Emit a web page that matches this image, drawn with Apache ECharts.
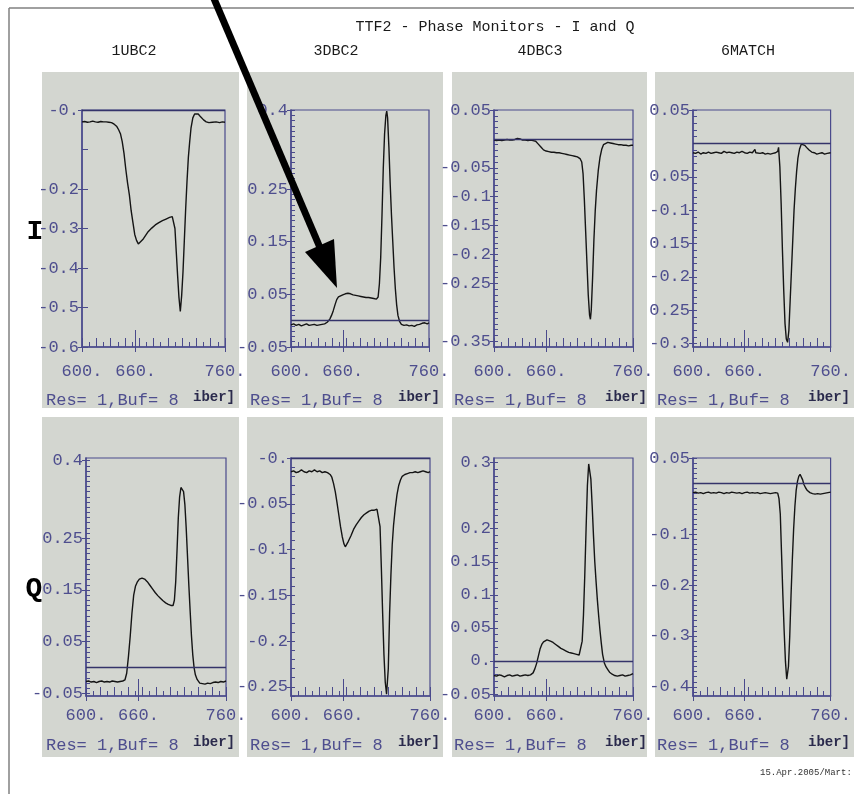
<!DOCTYPE html>
<html><head><meta charset="utf-8">
<script src="https://cdn.jsdelivr.net/npm/echarts@6/dist/echarts.min.js"></script>
<style>html,body{margin:0;padding:0;background:#fff}#c{width:854px;height:794px}</style>
</head><body><div id="c"></div>
<script>
// ---------------- DATA ----------------
const title = 'TTF2 - Phase Monitors - I and Q';
const monitors = ['1UBC2', '3DBC2', '4DBC3', '6MATCH'];
const rowNames = ['I', 'Q'];
const xRange = [600, 760];
const xLabelVals = [600, 660, 760];
const xLabelTexts = ['600.', '660.', '760.'];
const infoText = 'Res= 1,Buf= 8';
const unitText = 'iber]';
const footerText = '15.Apr.2005/Mart:';

// 1UBC2 - I
const x_1UBC2_I = [600,603,606,609,612,615,618,621,624,627,630,633,636,639,641,643,645,647,649,651,653,655,657,659,661,663,665,668,671,674,678,682,686,690,694,698,701,702.5,704,705.5,707,708.5,710,711.5,713,714.5,716,717.5,719,720.5,722,724,726,728,730,733,736,739,742,746,750,754,757,760];
const y_1UBC2_I = [-0.030,-0.029,-0.031,-0.030,-0.028,-0.030,-0.031,-0.029,-0.030,-0.030,-0.031,-0.032,-0.036,-0.042,-0.050,-0.060,-0.080,-0.110,-0.150,-0.185,-0.215,-0.255,-0.285,-0.315,-0.330,-0.339,-0.337,-0.328,-0.318,-0.308,-0.299,-0.291,-0.285,-0.280,-0.276,-0.272,-0.270,-0.275,-0.300,-0.360,-0.420,-0.475,-0.510,-0.470,-0.410,-0.330,-0.250,-0.180,-0.120,-0.080,-0.045,-0.020,-0.010,-0.006,-0.010,-0.018,-0.025,-0.030,-0.032,-0.031,-0.030,-0.032,-0.030,-0.031];
// 3DBC2 - I
const x_3DBC2_I = [600,603,606,609,612,615,618,621,624,627,630,633,636,639,642,645,647,649,651,653,655,657,660,663,666,669,672,675,678,681,684,687,690,693,696,699,701,702.5,704,705.5,707,708.5,710,711,712,713.5,715,716.5,718,719.5,721,722.5,724,726,728,731,734,737,740,743,746,749,752,755,758,760];
const y_3DBC2_I = [-0.008,-0.006,-0.009,-0.007,-0.010,-0.008,-0.006,-0.009,-0.008,-0.007,-0.009,-0.008,-0.007,-0.006,-0.003,0.003,0.010,0.019,0.030,0.040,0.045,0.047,0.049,0.051,0.052,0.051,0.049,0.048,0.047,0.046,0.045,0.044,0.044,0.043,0.042,0.041,0.045,0.070,0.120,0.200,0.290,0.355,0.390,0.398,0.385,0.330,0.260,0.200,0.150,0.100,0.060,0.030,0.010,-0.002,-0.007,-0.009,-0.008,-0.010,-0.009,-0.011,-0.008,-0.007,-0.005,-0.004,-0.006,-0.004];
// 4DBC3 - I
const x_4DBC3_I = [600,603,606,609,612,615,618,621,624,627,630,633,636,639,642,645,648,651,654,657,660,663,666,669,672,675,678,681,684,687,690,693,696,699,701,702.5,704,705.5,707,708.5,710,711,712,713.5,715,716.5,718,720,722,724,726,728,731,734,737,740,743,746,749,752,755,758,760];
const y_4DBC3_I = [-0.002,-0.003,-0.002,-0.003,-0.002,-0.001,-0.002,-0.002,-0.001,0.001,0.000,-0.002,-0.002,-0.003,-0.002,-0.003,-0.004,-0.009,-0.014,-0.019,-0.021,-0.022,-0.023,-0.023,-0.024,-0.024,-0.025,-0.026,-0.027,-0.028,-0.029,-0.030,-0.031,-0.034,-0.040,-0.060,-0.105,-0.160,-0.215,-0.270,-0.305,-0.312,-0.295,-0.240,-0.175,-0.125,-0.089,-0.055,-0.032,-0.018,-0.010,-0.007,-0.006,-0.007,-0.008,-0.009,-0.010,-0.010,-0.011,-0.011,-0.012,-0.011,-0.011];
// 6MATCH - I
const x_6MATCH_I = [600,603,606,609,612,615,618,621,624,627,630,633,636,639,642,645,648,651,654,657,660,663,666,669,672,673,675,678,681,684,687,690,693,696,698.5,699.5,701,702.5,704,705.5,707,708.5,710,711.5,713,714.5,716,717.5,719,720.5,722,724,726,728,730,732,735,738,741,744,747,750,753,756,760];
const y_6MATCH_I = [-0.014,-0.015,-0.013,-0.016,-0.014,-0.015,-0.013,-0.015,-0.014,-0.013,-0.014,-0.015,-0.012,-0.014,-0.013,-0.014,-0.015,-0.013,-0.014,-0.012,-0.014,-0.015,-0.013,-0.014,-0.009,-0.014,-0.014,-0.015,-0.014,-0.016,-0.015,-0.016,-0.015,-0.014,-0.012,-0.006,-0.035,-0.090,-0.160,-0.220,-0.270,-0.293,-0.298,-0.280,-0.235,-0.190,-0.145,-0.100,-0.068,-0.042,-0.022,-0.008,-0.001,0.001,-0.003,-0.006,-0.010,-0.013,-0.014,-0.016,-0.015,-0.014,-0.016,-0.015,-0.014];
// 1UBC2 - Q
const x_1UBC2_Q = [600,603,606,609,612,615,618,621,624,627,630,633,636,639,642,644.5,646.5,648.5,650.5,652.5,654.5,656.5,658.5,661,664,667,670,673,676,679,682,685,688,691,694,697,699.5,701,702.5,704,705.5,707,708.5,710,711.5,713,714.5,716,717.5,719,720.5,722,723.5,725,727,730,733,736,739,742,745,748,751,754,757,760];
const y_1UBC2_Q = [-0.027,-0.026,-0.028,-0.027,-0.029,-0.027,-0.026,-0.028,-0.027,-0.028,-0.026,-0.027,-0.028,-0.027,-0.026,-0.024,-0.011,0.021,0.060,0.105,0.140,0.157,0.165,0.171,0.173,0.171,0.166,0.159,0.152,0.145,0.139,0.134,0.129,0.125,0.122,0.120,0.120,0.130,0.165,0.225,0.290,0.330,0.348,0.350,0.340,0.315,0.270,0.215,0.160,0.110,0.062,0.025,0.000,-0.014,-0.023,-0.030,-0.031,-0.032,-0.030,-0.031,-0.029,-0.028,-0.029,-0.027,-0.028,-0.026];
// 3DBC2 - Q
const x_3DBC2_Q = [600,603,606,609,612,615,618,621,624,627,630,633,636,639,642,645,647,649,651,653,655,657,659,661,662.5,664,666,669,672,675,678,681,684,687,690,693,696,699,701,702.5,704,705.5,707,708.5,710,711,712,713.5,715,716.5,718,720,722,724,726,728,731,734,737,740,743,746,749,752,755,758,760];
const y_3DBC2_Q = [-0.015,-0.014,-0.016,-0.015,-0.013,-0.015,-0.016,-0.014,-0.015,-0.013,-0.015,-0.014,-0.016,-0.015,-0.016,-0.018,-0.021,-0.028,-0.037,-0.049,-0.062,-0.075,-0.086,-0.094,-0.097,-0.095,-0.091,-0.085,-0.078,-0.073,-0.069,-0.065,-0.062,-0.060,-0.058,-0.057,-0.057,-0.056,-0.058,-0.075,-0.120,-0.170,-0.215,-0.245,-0.258,-0.258,-0.230,-0.170,-0.128,-0.095,-0.074,-0.055,-0.040,-0.030,-0.024,-0.020,-0.018,-0.017,-0.016,-0.016,-0.015,-0.016,-0.015,-0.014,-0.015,-0.016,-0.015];
// 4DBC3 - Q
const x_4DBC3_Q = [600,603,606,609,612,615,618,621,624,627,630,633,636,639,642,645,647,649,651,653,655,657,659,661,663,665,668,671,674,677,680,683,686,689,692,695,698,700,701.5,703,704.5,706,707.5,709,710,711.5,713,714.5,716,717.5,719,720.5,722,723.5,725,727,729,731,733,736,739,742,745,748,751,754,757,760];
const y_4DBC3_Q = [-0.022,-0.023,-0.021,-0.022,-0.024,-0.022,-0.021,-0.023,-0.022,-0.021,-0.023,-0.022,-0.021,-0.022,-0.021,-0.018,-0.012,-0.004,0.007,0.018,0.025,0.029,0.031,0.032,0.031,0.030,0.028,0.025,0.022,0.019,0.017,0.015,0.013,0.012,0.011,0.010,0.009,0.012,0.030,0.070,0.130,0.200,0.265,0.298,0.296,0.275,0.235,0.190,0.150,0.120,0.092,0.068,0.046,0.027,0.010,-0.003,-0.009,-0.013,-0.017,-0.020,-0.022,-0.023,-0.022,-0.021,-0.023,-0.022,-0.021,-0.019];
// 6MATCH - Q
const x_6MATCH_Q = [600,603,606,609,612,615,618,621,624,627,630,633,636,639,642,645,648,651,654,657,660,663,666,669,672,675,678,681,684,687,690,693,696,698.5,700,701.5,703,704.5,706,707.5,709,710,711,712.5,714,715.5,717,718.5,720,721.5,723,724.5,726,727.5,729,731,733,736,739,742,745,748,751,754,757,760];
const y_6MATCH_Q = [-0.018,-0.017,-0.019,-0.018,-0.020,-0.018,-0.017,-0.019,-0.018,-0.019,-0.017,-0.018,-0.020,-0.018,-0.019,-0.017,-0.018,-0.019,-0.018,-0.020,-0.018,-0.017,-0.019,-0.018,-0.019,-0.018,-0.020,-0.019,-0.018,-0.019,-0.020,-0.019,-0.018,-0.019,-0.030,-0.060,-0.140,-0.220,-0.290,-0.350,-0.385,-0.382,-0.360,-0.300,-0.220,-0.150,-0.090,-0.045,-0.013,0.004,0.014,0.018,0.015,0.007,-0.002,-0.009,-0.014,-0.018,-0.020,-0.021,-0.020,-0.021,-0.020,-0.019,-0.018,-0.017];

// y ranges and tick labels per panel
const yRange_1UBC2_I = [-0.6, 0];
const yLabVals_1UBC2_I = [0, -0.2, -0.3, -0.4, -0.5, -0.6];
const yLabTxt_1UBC2_I = ['-0.', '-0.2', '-0.3', '-0.4', '-0.5', '-0.6'];
const yRange_3DBC2_I = [-0.05, 0.4];
const yLabVals_3DBC2_I = [0.4, 0.25, 0.15, 0.05, -0.05];
const yLabTxt_3DBC2_I = ['0.4', '0.25', '0.15', '0.05', '-0.05'];
const yRange_4DBC3_I = [-0.36, 0.05];
const yLabVals_4DBC3_I = [0.05, -0.05, -0.1, -0.15, -0.2, -0.25, -0.35];
const yLabTxt_4DBC3_I = ['0.05', '-0.05', '-0.1', '-0.15', '-0.2', '-0.25', '-0.35'];
const yRange_6MATCH_I = [-0.305, 0.05];
const yLabVals_6MATCH_I = [0.05, -0.05, -0.1, -0.15, -0.2, -0.25, -0.3];
const yLabTxt_6MATCH_I = ['0.05', '0.05', '-0.1', '0.15', '-0.2', '0.25', '-0.3'];
const yRange_1UBC2_Q = [-0.055, 0.405];
const yLabVals_1UBC2_Q = [0.4, 0.25, 0.15, 0.05, -0.05];
const yLabTxt_1UBC2_Q = ['0.4', '0.25', '0.15', '0.05', '-0.05'];
const yRange_3DBC2_Q = [-0.26, 0];
const yLabVals_3DBC2_Q = [0, -0.05, -0.1, -0.15, -0.2, -0.25];
const yLabTxt_3DBC2_Q = ['-0.', '-0.05', '-0.1', '-0.15', '-0.2', '-0.25'];
const yRange_4DBC3_Q = [-0.053, 0.307];
const yLabVals_4DBC3_Q = [0.3, 0.2, 0.15, 0.1, 0.05, 0, -0.05];
const yLabTxt_4DBC3_Q = ['0.3', '0.2', '0.15', '0.1', '0.05', '0.', '-0.05'];
const yRange_6MATCH_Q = [-0.418, 0.05];
const yLabVals_6MATCH_Q = [0.05, -0.1, -0.2, -0.3, -0.4];
const yLabTxt_6MATCH_Q = ['0.05', '-0.1', '-0.2', '-0.3', '-0.4'];

// ---------------- BUILD ----------------
const panels = [
  {xs:x_1UBC2_I, ys:y_1UBC2_I, r:yRange_1UBC2_I, lv:yLabVals_1UBC2_I, lt:yLabTxt_1UBC2_I, step:0.1},
  {xs:x_3DBC2_I, ys:y_3DBC2_I, r:yRange_3DBC2_I, lv:yLabVals_3DBC2_I, lt:yLabTxt_3DBC2_I, step:0.01},
  {xs:x_4DBC3_I, ys:y_4DBC3_I, r:yRange_4DBC3_I, lv:yLabVals_4DBC3_I, lt:yLabTxt_4DBC3_I, step:0.01},
  {xs:x_6MATCH_I, ys:y_6MATCH_I, r:yRange_6MATCH_I, lv:yLabVals_6MATCH_I, lt:yLabTxt_6MATCH_I, step:0.01},
  {xs:x_1UBC2_Q, ys:y_1UBC2_Q, r:yRange_1UBC2_Q, lv:yLabVals_1UBC2_Q, lt:yLabTxt_1UBC2_Q, step:0.01},
  {xs:x_3DBC2_Q, ys:y_3DBC2_Q, r:yRange_3DBC2_Q, lv:yLabVals_3DBC2_Q, lt:yLabTxt_3DBC2_Q, step:0.01},
  {xs:x_4DBC3_Q, ys:y_4DBC3_Q, r:yRange_4DBC3_Q, lv:yLabVals_4DBC3_Q, lt:yLabTxt_4DBC3_Q, step:0.01},
  {xs:x_6MATCH_Q, ys:y_6MATCH_Q, r:yRange_6MATCH_Q, lv:yLabVals_6MATCH_Q, lt:yLabTxt_6MATCH_Q, step:0.01}
];
const layout = [
  {left:82, top:110, width:143, height:237},
  {left:291, top:110, width:138, height:237},
  {left:494, top:110, width:139, height:237},
  {left:693, top:110, width:146, height:237},
  {left:86, top:458, width:140, height:238},
  {left:291, top:458, width:139, height:238},
  {left:494, top:458, width:139, height:238},
  {left:693, top:458, width:146, height:238}
];
const panelBoxes = [[42,239],[247,443],[452,647],[655,860]];
const rowBoxes = [[72,408],[417,757]];

const AX = '#4a4a8c';
const LBL = '#4e4e8e';
const FONT = 'Liberation Mono';

const grids = [], xAxes = [], yAxes = [], series = [];
const tallTicks = [], shortTicks = [];
for (let v = xRange[0]; v <= xRange[1]; v += 16) tallTicks.push(v);
for (let v = xRange[0] + 8; v < xRange[1]; v += 16) shortTicks.push(v);

panels.forEach((p, i) => {
  const L = layout[i];
  const row = i < 4 ? 0 : 1;
  grids.push({left:L.left, top:L.top, width:L.width, height:L.height, show:true,
    borderColor:AX, borderWidth:1.2, backgroundColor:'transparent'});
  const baseX = {gridIndex:i, type:'value', position:'bottom', min:xRange[0], max:xRange[1],
    splitLine:{show:false}};
  xAxes.push(Object.assign({}, baseX, {
    axisLine:{show:true, onZero:false, lineStyle:{color:AX, width:1.5}},
    axisTick:{show:true, inside:false, length:5, customValues:xLabelVals, lineStyle:{color:AX}},
    axisLabel:{show:true, customValues:xLabelVals, margin: row === 0 ? 16 : 11,
      color:LBL, fontSize:17, fontFamily:FONT,
      formatter:(v) => { const k = xLabelVals.indexOf(v); return k >= 0 ? xLabelTexts[k] : ''; }}
  }));
  xAxes.push(Object.assign({}, baseX, {
    axisLine:{show:false, onZero:false}, axisLabel:{show:false},
    axisTick:{show:true, inside:true, length:9, customValues:tallTicks, lineStyle:{color:AX}}
  }));
  xAxes.push(Object.assign({}, baseX, {
    axisLine:{show:false, onZero:false}, axisLabel:{show:false},
    axisTick:{show:true, inside:true, length:5, customValues:shortTicks, lineStyle:{color:AX}}
  }));
  xAxes.push(Object.assign({}, baseX, {
    axisLine:{show:false, onZero:false}, axisLabel:{show:false},
    axisTick:{show:true, inside:true, length:17, customValues:[660], lineStyle:{color:AX}}
  }));
  const dense = [];
  const s0 = Math.ceil(p.r[0] / p.step - 1e-6), s1 = Math.floor(p.r[1] / p.step + 1e-6);
  for (let k = s0; k <= s1; k++) dense.push(+(k * p.step).toFixed(4));
  const baseY = {gridIndex:i, type:'value', position:'left', min:p.r[0], max:p.r[1], splitLine:{show:false}};
  yAxes.push(Object.assign({}, baseY, {
    axisLine:{show:true, onZero:false, lineStyle:{color:AX, width:1.5}},
    axisTick:{show:true, inside:false, length:4, customValues:p.lv, lineStyle:{color:AX}},
    axisLabel:{show:true, customValues:p.lv, margin:3, color:LBL, fontSize:17, fontFamily:FONT,
      formatter:(v) => { for (let k = 0; k < p.lv.length; k++) if (Math.abs(p.lv[k] - v) < 1e-6) return p.lt[k]; return ''; }}
  }));
  yAxes.push(Object.assign({}, baseY, {
    axisLine:{show:false, onZero:false}, axisLabel:{show:false},
    axisTick:{show:true, inside:true, length: p.step > 0.05 ? 6 : 4, customValues:dense, lineStyle:{color:AX, width:1}}
  }));
  series.push({type:'line', xAxisIndex:i*4, yAxisIndex:i*2,
    data:p.xs.map((x, j) => [x, p.ys[j]]),
    showSymbol:false, symbol:'none', clip:true, animation:false,
    lineStyle:{color:'#141414', width:1.4},
    markLine:{silent:true, symbol:'none', animation:false, label:{show:false},
      lineStyle:{color:'#34346a', width:1.3, type:'solid'}, data:[{yAxis:0}]}
  });
});

const graphics = [];
// panel backgrounds
rowBoxes.forEach(rb => panelBoxes.forEach(pb => {
  graphics.push({type:'rect', z:-10, shape:{x:pb[0], y:rb[0], width:pb[1]-pb[0], height:rb[1]-rb[0]},
    style:{fill:'#d3d6d0'}});
}));
// page frame
graphics.push({type:'line', z:5, shape:{x1:9, y1:8, x2:854, y2:8}, style:{stroke:'#808080', lineWidth:1.5}});
graphics.push({type:'line', z:5, shape:{x1:9, y1:8, x2:9, y2:794}, style:{stroke:'#808080', lineWidth:1.5}});
// title texts
graphics.push({type:'text', z:20, x:495, y:27, style:{text:title, font:'15px "Liberation Mono"', fill:'#1a1a1a', align:'center', verticalAlign:'middle'}});
const colX = [134, 336, 540, 748];
monitors.forEach((m, k) => graphics.push({type:'text', z:20, x:colX[k], y:51,
  style:{text:m, font:'15px "Liberation Mono"', fill:'#1a1a1a', align:'center', verticalAlign:'middle'}}));
// row labels
graphics.push({type:'text', z:20, x:35, y:232, style:{text:rowNames[0], font:'bold 28px "Liberation Mono"', fill:'#000', align:'center', verticalAlign:'middle'}});
graphics.push({type:'text', z:20, x:34, y:589, style:{text:rowNames[1], font:'bold 28px "Liberation Mono"', fill:'#000', align:'center', verticalAlign:'middle'}});
// info texts
const infoX = [46, 250, 454, 657];
const unitX = [193, 398, 605, 808];
[400, 745].forEach(yy => {
  infoX.forEach(xx => graphics.push({type:'text', z:20, x:xx, y:yy, style:{text:infoText, font:'17px "Liberation Mono"', fill:LBL, align:'left', verticalAlign:'middle'}}));
  unitX.forEach(xx => graphics.push({type:'text', z:20, x:xx, y:yy-3, style:{text:unitText, font:'bold 14px "Liberation Mono"', fill:'#2a2a4c', align:'left', verticalAlign:'middle'}}));
});
// footer
graphics.push({type:'text', z:20, x:760, y:773, style:{text:footerText, font:'9px "Liberation Mono"', fill:'#333', align:'left', verticalAlign:'middle'}});
// annotation arrow
graphics.push({type:'line', z:100, shape:{x1:212, y1:-6, x2:321, y2:250}, style:{stroke:'#000', lineWidth:7}});
graphics.push({type:'polygon', z:100, shape:{points:[[337,288],[334,239],[305,252]]}, style:{fill:'#000'}});

const chart = echarts.init(document.getElementById('c'), null, {renderer:'canvas'});
chart.setOption({
  backgroundColor:'#ffffff',
  animation:false,
  grid:grids, xAxis:xAxes, yAxis:yAxes, series:series,
  graphic:{elements:graphics}
});
</script>
</body></html>
